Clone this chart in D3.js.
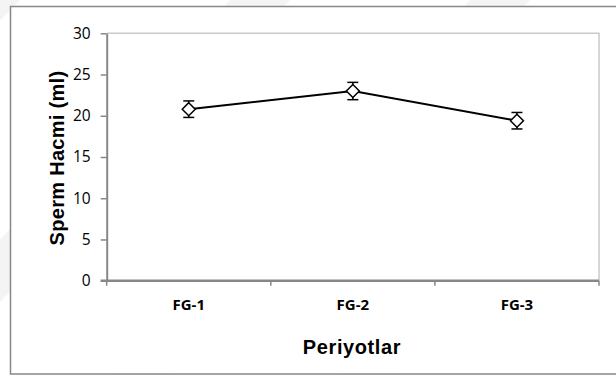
<!DOCTYPE html>
<html>
<head>
<meta charset="utf-8">
<script src="https://cdn.jsdelivr.net/npm/d3@7"></script>
<style>
  html, body { margin: 0; padding: 0; background: #fff; }
  svg { display: block; }
</style>
</head>
<body>
<div id="chart"></div>
<script>
// données
const categories = ["FG-1", "FG-2", "FG-3"];
const means = [20.8, 23.0, 19.4];
const errors = [1.0, 1.05, 1.0];
const yTicks = [0, 5, 10, 15, 20, 25, 30];

const width = 616, height = 375;
const plot = { left: 106.7, right: 599, top: 33.3, bottom: 280.7 };

const svg = d3.select("#chart").append("svg")
  .attr("width", width)
  .attr("height", height);

// bandes claires du filigrane en arrière-plan
const bands = [-40, 230, 470, 700];
svg.selectAll("path.wm")
  .data(bands)
  .enter().append("path")
  .attr("class", "wm")
  .attr("d", d => `M${d},0 L${d + 60},0 L${d - 300},${height} L${d - 360},${height} Z`)
  .attr("fill", "#f4f4f4");

// cadre du graphique
svg.append("rect")
  .attr("x", 10.5)
  .attr("y", 6.5)
  .attr("width", 640)
  .attr("height", 367.5)
  .attr("fill", "#fff")
  .attr("stroke", "#878787")
  .attr("stroke-width", 1.5);

const x = d3.scaleBand().domain(categories).range([plot.left, plot.right]);
const y = d3.scaleLinear().domain([0, 30]).range([plot.bottom, plot.top]);

// bordure haute et droite de la zone de tracé
svg.append("path")
  .attr("d", `M${plot.left},${plot.top} H${plot.right} V${plot.bottom}`)
  .attr("fill", "none")
  .attr("stroke", "#c9c9c9")
  .attr("stroke-width", 1.5);

// axe Y
const yAxis = svg.append("g")
  .attr("transform", `translate(${plot.left},0)`)
  .call(d3.axisLeft(y).tickValues(yTicks).tickSize(6).tickPadding(10).tickSizeOuter(0));
yAxis.select(".domain").attr("stroke", "#878787").attr("stroke-width", 2);
yAxis.selectAll(".tick line").attr("stroke", "#878787").attr("stroke-width", 1.5);
yAxis.selectAll(".tick text")
  .attr("fill", "#000")
  .style("font-family", "'Open Sans', sans-serif")
  .style("font-size", "15.5px");

// axe X
const edges = categories.map(c => x(c)).concat([plot.right]);
const xAxis = svg.append("g")
  .attr("transform", `translate(0,${plot.bottom})`);
xAxis.append("line")
  .attr("x1", plot.left - 6).attr("x2", plot.right)
  .attr("stroke", "#878787").attr("stroke-width", 2.5);
xAxis.selectAll("line.tk")
  .data(edges)
  .enter().append("line")
  .attr("class", "tk")
  .attr("x1", d => d).attr("x2", d => d)
  .attr("y1", 0).attr("y2", 5)
  .attr("stroke", "#878787").attr("stroke-width", 1.5);
xAxis.selectAll("text")
  .data(categories)
  .enter().append("text")
  .attr("x", d => x(d) + x.bandwidth() / 2)
  .attr("y", 29.5)
  .attr("text-anchor", "middle")
  .style("font-family", "'Open Sans', sans-serif")
  .style("font-weight", "bold")
  .style("font-size", "15px")
  .text(d => d);

// titres des axes
svg.append("text")
  .attr("x", 352)
  .attr("y", 353.5)
  .attr("text-anchor", "middle")
  .style("font-family", "'Liberation Sans', Arial, sans-serif")
  .style("font-weight", "bold")
  .style("font-size", "20px")
  .style("letter-spacing", "0.6px")
  .text("Periyotlar");

svg.append("text")
  .attr("transform", `translate(64,${158}) rotate(-90)`)
  .attr("text-anchor", "middle")
  .style("font-family", "'Liberation Sans', Arial, sans-serif")
  .style("font-weight", "bold")
  .style("font-size", "20px")
  .style("letter-spacing", "0.3px")
  .text("Sperm Hacmi (ml)");

// série
const points = categories.map((c, i) => ({ c: c, v: means[i], e: errors[i] }));
const cx = d => x(d.c) + x.bandwidth() / 2;

svg.append("path")
  .datum(points)
  .attr("fill", "none")
  .attr("stroke", "#000")
  .attr("stroke-width", 2)
  .attr("d", d3.line().x(cx).y(d => y(d.v)));

const eb = svg.selectAll("g.err")
  .data(points)
  .enter().append("g")
  .attr("class", "err")
  .attr("stroke", "#000")
  .attr("stroke-width", 1.5);
eb.append("line")
  .attr("x1", cx).attr("x2", cx)
  .attr("y1", d => y(d.v + d.e)).attr("y2", d => y(d.v - d.e));
eb.append("line")
  .attr("x1", d => cx(d) - 5.5).attr("x2", d => cx(d) + 5.5)
  .attr("y1", d => y(d.v + d.e)).attr("y2", d => y(d.v + d.e));
eb.append("line")
  .attr("x1", d => cx(d) - 5.5).attr("x2", d => cx(d) + 5.5)
  .attr("y1", d => y(d.v - d.e)).attr("y2", d => y(d.v - d.e));

svg.selectAll("path.mk")
  .data(points)
  .enter().append("path")
  .attr("class", "mk")
  .attr("d", d => {
    const px = cx(d), py = y(d.v);
    return `M${px},${py - 6.5} L${px + 6.5},${py} L${px},${py + 6.5} L${px - 6.5},${py} Z`;
  })
  .attr("fill", "#fff")
  .attr("stroke", "#000")
  .attr("stroke-width", 1.5);
</script>
</body>
</html>
